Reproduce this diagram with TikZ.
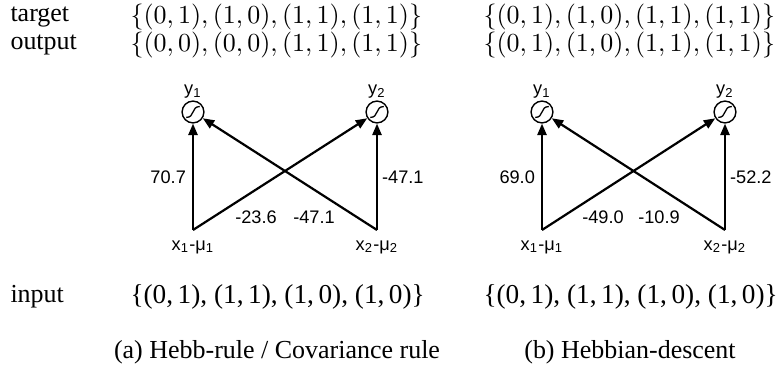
\documentclass[tikz,border=0pt]{standalone}
\usepackage{fontspec}
\setmainfont{Liberation Serif}
\newfontfamily\labfont{Liberation Sans}
\usetikzlibrary{arrows.meta}

\tikzset{
  unit/.style={circle, draw, line width=0.55pt, minimum size=8.4pt, inner sep=0pt,
               path picture={\draw[line width=0.5pt]
                 (path picture bounding box.center) ++(-2.6pt,-2.1pt)
                 .. controls +(3.4pt,0pt) and +(-3.4pt,0pt) .. +(5.2pt,4.2pt);}},
  lab/.style={font=\labfont\fontsize{7}{8}\selectfont, inner sep=1pt},
  wire/.style={line width=0.85pt, -{Triangle[length=4.4pt,width=3.5pt]}},
  row/.style={anchor=west, inner sep=0pt, font=\fontsize{10}{12}\selectfont},
  caption/.style={font=\fontsize{10}{12}\selectfont, inner sep=0pt}
}

\begin{document}
\begin{tikzpicture}[x=0.385pt, y=-0.385pt]
  \useasboundingbox (0,0) rectangle (782,369);

  % row names
  \node[row] (tname) at (10,17)  {target};
  \node[row] (oname) at (10,45)  {output};
  \node[row] (iname) at (10,297) {input};

  % (a) Hebb-rule
  \node[row] (atarget) at (130,17)  {$\{(0,1),(1,0),(1,1),(1,1)\}$};
  \node[row] (aoutput) at (130,45)  {$\{(0,0),(0,0),(1,1),(1,1)\}$};
  \node[row, font=\fontsize{10.5}{12}\selectfont] (ainput) at (130,297)
    {\{(0,\,1), (1,\,1), (1,\,0), (1,\,0)\}};

  \node[unit] (ay1) at (193,112) {};
  \node[unit] (ay2) at (377,112) {};
  \node[lab] (ay1lab) at (193,92) {y\textsubscript{1}};
  \node[lab] (ay2lab) at (377,92) {y\textsubscript{2}};
  \coordinate (ax1) at (193,230);
  \coordinate (ax2) at (377,230);
  \node[lab] (ax1lab) at (193,247) {x\textsubscript{1}-μ\textsubscript{1}};
  \node[lab] (ax2lab) at (377,247) {x\textsubscript{2}-μ\textsubscript{2}};

  \draw[wire] (ax1) -- (ay1);
  \draw[wire] (ax1) -- (ay2);
  \draw[wire] (ax2) -- (ay1);
  \draw[wire] (ax2) -- (ay2);

  \node[lab, anchor=east] at (189,177) {70.7};
  \node[lab, anchor=west] at (379,177) {-47.1};
  \node[lab] at (256,217) {-23.6};
  \node[lab] at (314,217) {-47.1};

  % (b) Hebbian-descent
  \node[row] (btarget) at (483,17)  {$\{(0,1),(1,0),(1,1),(1,1)\}$};
  \node[row] (boutput) at (483,45)  {$\{(0,1),(1,0),(1,1),(1,1)\}$};
  \node[row, font=\fontsize{10.5}{12}\selectfont] (binput) at (483,297)
    {\{(0,\,1), (1,\,1), (1,\,0), (1,\,0)\}};

  \node[unit] (by1) at (542,112) {};
  \node[unit] (by2) at (725,112) {};
  \node[lab] (by1lab) at (542,92) {y\textsubscript{1}};
  \node[lab] (by2lab) at (725,92) {y\textsubscript{2}};
  \coordinate (bx1) at (542,230);
  \coordinate (bx2) at (725,230);
  \node[lab] (bx1lab) at (542,247) {x\textsubscript{1}-μ\textsubscript{1}};
  \node[lab] (bx2lab) at (725,247) {x\textsubscript{2}-μ\textsubscript{2}};

  \draw[wire] (bx1) -- (by1);
  \draw[wire] (bx1) -- (by2);
  \draw[wire] (bx2) -- (by1);
  \draw[wire] (bx2) -- (by2);

  \node[lab, anchor=east] at (538,177) {69.0};
  \node[lab, anchor=west] at (727,177) {-52.2};
  \node[lab] at (603,217) {-49.0};
  \node[lab] at (659,217) {-10.9};

  % captions
  \node[caption] (acap) at (277,352) {(a) Hebb-rule / Covariance rule};
  \node[caption] (bcap) at (630,352) {(b) Hebbian-descent};
\end{tikzpicture}
\end{document}
